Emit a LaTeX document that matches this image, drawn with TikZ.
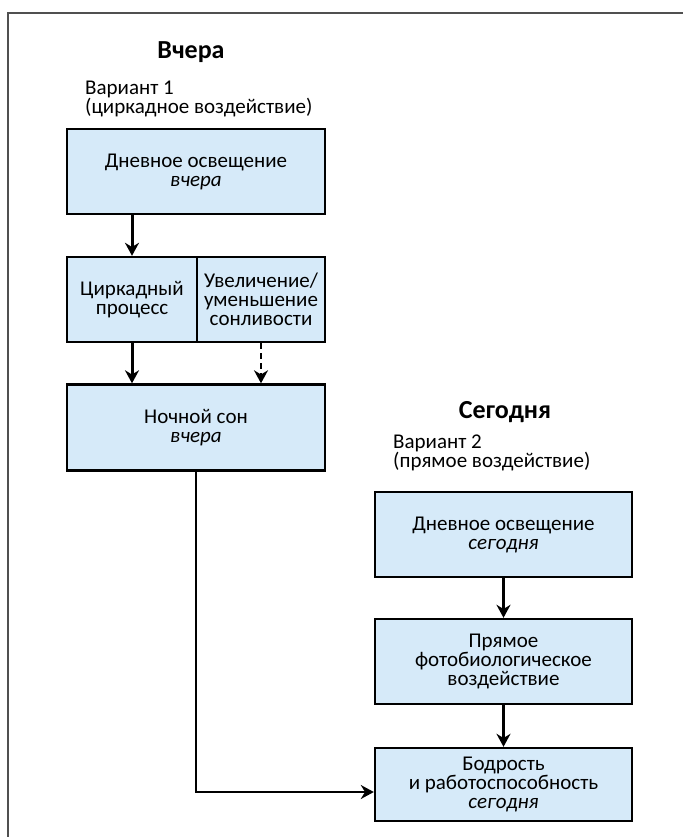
\documentclass[tikz,border=0pt]{standalone}
\usepackage{fontspec}
\setmainfont{Carlito}
\usetikzlibrary{arrows.meta}
\definecolor{boxfill}{RGB}{214,234,249}
\definecolor{framegray}{RGB}{80,80,80}
\tikzset{
  flowbox/.style={draw=black, line width=2.4pt, fill=boxfill, align=center,
    inner sep=0pt, font=\fontsize{21}{19}\selectfont},
  heading/.style={font=\fontsize{26}{28}\selectfont\bfseries, inner sep=0pt},
  variant/.style={font=\fontsize{21}{17.5}\selectfont, align=left, anchor=west, inner sep=0pt},
  flowarrow/.style={line width=2.2pt, -{Stealth[length=13pt,width=14pt]}},
  thickarrow/.style={line width=3pt, -{Stealth[length=13pt,width=14pt]}},
  dasharrow/.style={line width=2.2pt, dash pattern=on 6pt off 4pt, -{Stealth[length=13pt,width=14pt]}}
}
\begin{document}
\begin{tikzpicture}[x=1pt,y=-1pt]
\useasboundingbox (0,0) rectangle (683,837);
% outer frame, open on the right and at the bottom
\draw[framegray, line width=1.6pt] (8,837) -- (8,13) -- (683,13);

% yesterday: circadian pathway
\node[heading] (yesterday) at (191,52) {Вчера};
\node[variant] (var1) at (85,99) {Вариант 1\\(циркадное воздействие)};

\node[flowbox, minimum width=258pt, minimum height=85pt] (daylight1) at (196,171.5)
  {Дневное освещение\\\textit{вчера}};
\node[flowbox, minimum width=130pt, minimum height=85pt] (circadian) at (132,299.5)
  {Циркадный\\процесс};
\node[flowbox, minimum width=128pt, minimum height=85pt] (sleepiness) at (261,299.5)
  {Увеличение/\\уменьшение\\сонливости};
\node[flowbox, minimum width=258pt, minimum height=86pt] (nightsleep) at (196,427.5)
  {Ночной сон\\\textit{вчера}};

\draw[thickarrow] (daylight1.south -| circadian.north) -- (circadian.north);
\draw[thickarrow] (circadian.south) -- (circadian.south |- nightsleep.north);
\draw[dasharrow] (sleepiness.south) -- (sleepiness.south |- nightsleep.north);

% today: direct pathway
\node[heading] (today) at (505,412) {Сегодня};
\node[variant] (var2) at (393,453) {Вариант 2\\(прямое воздействие)};

\node[flowbox, minimum width=257pt, minimum height=85pt] (daylight2) at (503.5,534.5)
  {Дневное освещение\\\textit{сегодня}};
\node[flowbox, minimum width=257pt, minimum height=85pt] (direct) at (503.5,661.5)
  {Прямое\\фотобиологическое\\воздействие};
\node[flowbox, minimum width=257pt, minimum height=73pt] (alertness) at (503.5,784.5)
  {Бодрость\\и работоспособность\\\textit{сегодня}};

\draw[flowarrow] (daylight2.south) -- (direct.north);
\draw[flowarrow] (direct.south) -- (alertness.north);

\coordinate (bend) at (196,792);
\draw[flowarrow] (nightsleep.south) -- (bend) -- (bend -| alertness.west);
\end{tikzpicture}
\end{document}
